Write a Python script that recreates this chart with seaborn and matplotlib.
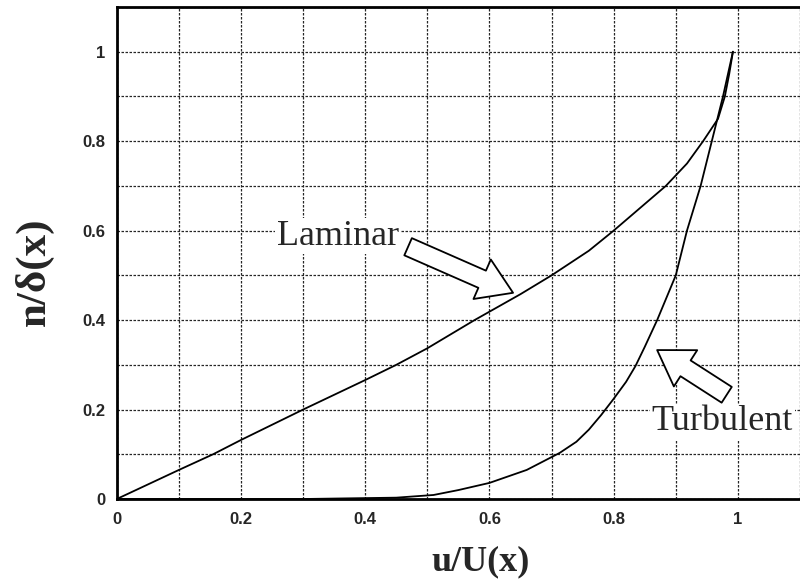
import matplotlib
matplotlib.use("Agg")
import matplotlib.pyplot as plt
import numpy as np
import pandas as pd
import seaborn as sns

# values
laminar_u = [0.0, 0.1, 0.155, 0.2, 0.3, 0.4, 0.45, 0.5, 0.576, 0.65, 0.7, 0.76, 0.8,
             0.842, 0.884, 0.918, 0.944, 0.968, 0.979, 0.986, 0.992]
laminar_n = [0.0, 0.065, 0.1, 0.132, 0.2, 0.266, 0.3, 0.337, 0.4, 0.458, 0.5, 0.555, 0.6,
             0.65, 0.7, 0.75, 0.8, 0.85, 0.9, 0.95, 1.0]

turbulent_u = [0.0, 0.3, 0.45, 0.51, 0.55, 0.6, 0.66, 0.713, 0.74, 0.76, 0.78, 0.8, 0.82,
               0.835, 0.85, 0.87, 0.885, 0.9, 0.918, 0.94, 0.958, 0.976, 0.992]
turbulent_n = [0.0, 0.0, 0.003, 0.009, 0.02, 0.036, 0.065, 0.103, 0.128, 0.155, 0.188, 0.224,
               0.262, 0.297, 0.34, 0.4, 0.45, 0.5, 0.6, 0.7, 0.8, 0.9, 1.0]

major_ticks = [0, 0.2, 0.4, 0.6, 0.8, 1.0]
tick_labels = ["0", "0.2", "0.4", "0.6", "0.8", "1"]
grid_ticks = np.round(np.arange(0, 1.11, 0.1), 2)

sns.set_theme(style="white")
plt.rcParams["font.family"] = ["Liberation Sans", "DejaVu Sans"]

fig = plt.figure(figsize=(8.0, 5.82), dpi=100)
ax = fig.add_axes([0.146, 0.1426, 0.854, 0.8454])

profiles = pd.concat([
    pd.DataFrame({"u": laminar_u, "n": laminar_n, "flow": "Laminar"}),
    pd.DataFrame({"u": turbulent_u, "n": turbulent_n, "flow": "Turbulent"}),
])
sns.lineplot(data=profiles, x="u", y="n", units="flow", estimator=None, sort=False,
             color="black", linewidth=1.3, ax=ax, zorder=3)

ax.set_xlim(0, 1.1)
ax.set_ylim(0, 1.1)
ax.set_xticks(grid_ticks, minor=True)
ax.set_yticks(grid_ticks, minor=True)
ax.set_xticks(major_ticks)
ax.set_yticks(major_ticks)
ax.set_xticklabels(tick_labels, fontweight="bold", fontsize=12)
ax.set_yticklabels(tick_labels, fontweight="bold", fontsize=12)
ax.tick_params(which="both", length=0)
ax.tick_params(axis="x", pad=9)
ax.tick_params(axis="y", pad=8)
ax.grid(which="both", color="0.15", linestyle=(0, (2, 1.2)), linewidth=0.9)
ax.set_axisbelow(True)

for side in ["left", "bottom", "top"]:
    ax.spines[side].set_color("black")
    ax.spines[side].set_linewidth(2.0)
ax.spines["right"].set_visible(False)

ax.set_xlabel("u/U(x)", family="Liberation Serif", fontweight="bold", fontsize=26)
ax.set_ylabel("n/δ(x)", family="Liberation Serif", fontweight="bold", fontsize=31)
ax.xaxis.set_label_coords(0.533, -0.095)
ax.yaxis.set_label_coords(-0.092, 0.461)

arrow = dict(arrowstyle="simple,head_length=0.9,head_width=1.15,tail_width=0.5",
             fc="white", ec="black", lw=1.3, mutation_scale=27, shrinkA=0, shrinkB=0)
ax.annotate("", xy=(0.638, 0.461), xytext=(0.469, 0.564), arrowprops=arrow, zorder=4)
ax.annotate("", xy=(0.870, 0.333), xytext=(0.982, 0.233), arrowprops=arrow, zorder=4)

label_box = dict(fc="white", ec="none", pad=1)
ax.text(0.2576, 0.568, "Laminar", family="Liberation Serif", fontsize=26,
        ha="left", va="baseline", bbox=label_box, zorder=4)
ax.text(0.8615, 0.154, "Turbulent", family="Liberation Serif", fontsize=26,
        ha="left", va="baseline", bbox=label_box, zorder=4)

fig.savefig("out.png", dpi=100)
plt.close(fig)
